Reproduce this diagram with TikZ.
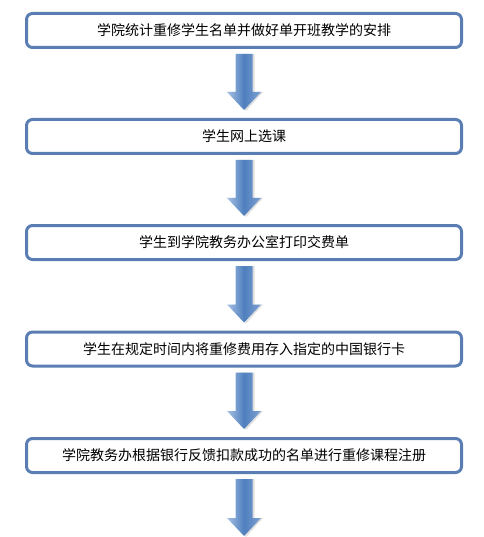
\documentclass[tikz,border=0pt]{standalone}
\usepackage{fontspec}
\setmainfont{Noto Sans CJK SC}
\usetikzlibrary{calc}
\definecolor{boxline}{HTML}{5A7DB3}
\definecolor{arrlight}{HTML}{A8C2E4}
\definecolor{arrmid}{HTML}{4F7FBE}
\definecolor{arrright}{HTML}{7FA2D2}
\tikzset{
  stepbox/.style={draw=boxline, line width=3pt, rounded corners=6pt, fill=white,
    minimum width=435pt, minimum height=34pt, inner sep=0pt, font=\fontsize{14pt}{16pt}\selectfont},
  blockarr/.style={left color=arrlight, right color=arrright, middle color=arrmid, draw=none},
  arrshadow/.style={fill=black!25, opacity=0.5, draw=none}
}
% #1 top coordinate, #2 tip coordinate
\newcommand{\blockarrow}[2]{%
  \fill[arrshadow] ($(#1)+(-8.5+2,0)$) -- ($(#1)+(8.5+2,0)$) -- ($(#2)+(8.5+2,-18)$) -- ($(#2)+(17+2,-18)$) -- ($(#2)+(2,1)$) -- ($(#2)+(-17+2,-18)$) -- ($(#2)+(-8.5+2,-18)$) -- cycle;
  \shade[blockarr] ($(#1)+(-8.5,0)$) -- ($(#1)+(8.5,0)$) -- ($(#2)+(8.5,-18)$) -- ($(#2)+(17,-18)$) -- (#2) -- ($(#2)+(-17,-18)$) -- ($(#2)+(-8.5,-18)$) -- cycle;
}
\begin{document}
\begin{tikzpicture}[x=1pt,y=-1pt]
\useasboundingbox (0,0) rectangle (483,537);
\node[stepbox] (b1) at (244,30.5) {学院统计重修学生名单并做好单开班教学的安排};
\node[stepbox] (b2) at (244,136.5) {学生网上选课};
\node[stepbox] (b3) at (244,242.5) {学生到学院教务办公室打印交费单};
\node[stepbox] (b4) at (244,349) {学生在规定时间内将重修费用存入指定的中国银行卡};
\node[stepbox] (b5) at (244,455.5) {学院教务办根据银行反馈扣款成功的名单进行重修课程注册};
\coordinate (e5) at (244,536);
\foreach \a/\b in {b1/b2,b2/b3,b3/b4,b4/b5}{
  \coordinate (s) at ($(\a.south)+(0,5)$);
  \coordinate (t) at ($(\b.north)+(0,-8)$);
  \blockarrow{s}{t}
}
\coordinate (s) at ($(b5.south)+(0,5)$);
\blockarrow{s}{e5}
\end{tikzpicture}
\end{document}
